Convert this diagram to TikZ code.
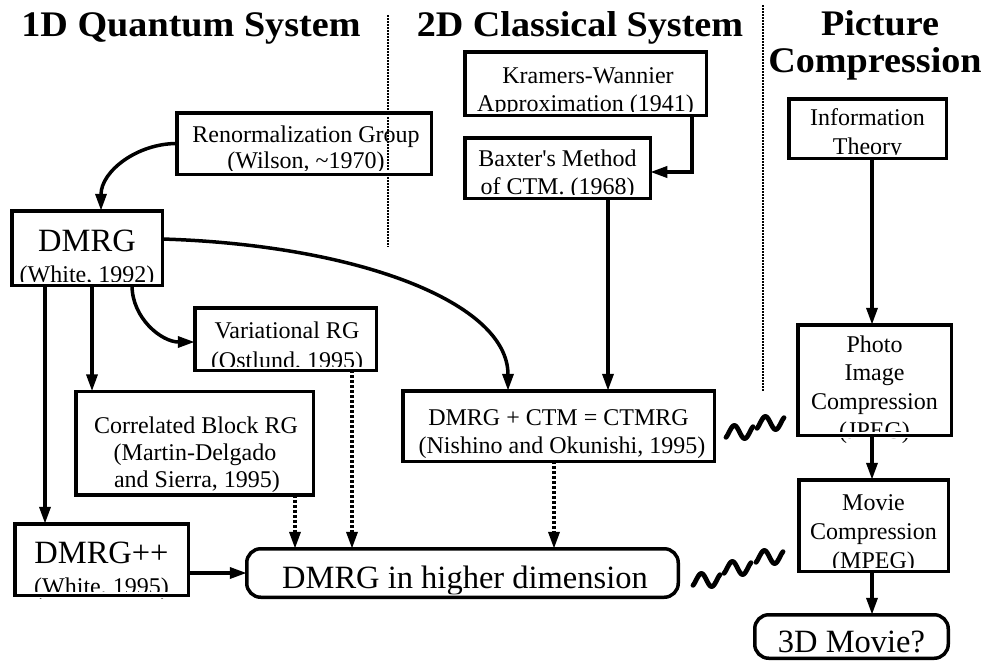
\documentclass[tikz,border=0pt]{standalone}
\usepackage{fontspec}
\setmainfont{Liberation Serif}
\newfontfamily\titlefont[FakeStretch=1.06]{Liberation Serif}
\usetikzlibrary{arrows.meta}
\begin{document}
\begin{tikzpicture}[x=1pt,y=-1pt,
  box/.style={draw, line width=3.5pt, inner sep=0pt, outer sep=0pt,
    preaction={draw=white, line width=6pt}},
  rbox/.style={box, rounded corners=14pt},
  txt/.style={anchor=base, inner sep=0pt, font=\fontsize{24}{28}\selectfont},
  big/.style={anchor=base, inner sep=0pt, font=\fontsize{32.5}{36}\selectfont},
  ttl/.style={anchor=base, inner sep=0pt, font=\titlefont\bfseries\fontsize{36}{40}\selectfont},
  arr/.style={line width=3.5pt, -{Triangle[length=17pt,width=11pt]}},
  darr/.style={arr, dash pattern=on 3pt off 2pt},
  sepline/.style={line width=1.5pt, dash pattern=on 1.5pt off 1.5pt},
  tl/.style={line width=4.8pt, line cap=round}]
\useasboundingbox (0,0) rectangle (994,662);

% titles
\node[ttl] (t1) at (191,36) {1D Quantum System};
\node[ttl] (t2) at (580,36) {2D Classical System};
\node[ttl] (t3a) at (880,35) {Picture};
\node[ttl] (t3b) at (875,72) {Compression};

% separators
\coordinate (s1a) at (388,15);
\coordinate (s1b) at (388,247);
\coordinate (s2a) at (763,5);
\coordinate (s2b) at (763,392);
\draw[sepline] (s1a) -- (s1b);
\draw[sepline] (s2a) -- (s2b);

% texts
\node[txt] (rg1) at (306,142) {Renormalization Group};
\node[txt] (rg2) at (306,168) {(Wilson, \textasciitilde1970)};
\node[txt] (kw1) at (588,83) {Kramers-Wannier};
\node[txt] (kw2) at (585.5,111) {Approximation (1941)};
\node[txt] (bx1) at (557.5,166) {Baxter\textquotesingle s Method};
\node[txt] (bx2) at (557.5,194) {of CTM. (1968)};
\node[txt] (it1) at (867.5,125) {Information};
\node[txt] (it2) at (867.5,154) {Theory};
\node[txt] (ph1) at (874.5,352) {Photo};
\node[txt] (ph2) at (874.5,380) {Image};
\node[txt] (ph3) at (874.5,409) {Compression};
\node[txt] (ph4) at (874.5,438) {(JPEG)};
\node[txt] (mv1) at (873.5,510) {Movie};
\node[txt] (mv2) at (873.5,539) {Compression};
\node[txt] (mv3) at (873.5,568) {(MPEG)};
\node[big] (m31) at (851.5,652) {3D Movie?};
\node[big] (dm1) at (87,251) {DMRG};
\node[txt] (dm2) at (87,282) {(White, 1992)};
\node[txt] (vr1) at (287,338) {Variational RG};
\node[txt] (vr2) at (287,368) {(Ostlund, 1995)};
\node[txt] (cb1) at (196,433) {Correlated Block RG};
\node[txt] (cb2) at (195,460) {(Martin-Delgado};
\node[txt] (cb3) at (197,487) {and Sierra, 1995)};
\node[txt] (cm1) at (558.5,425) {DMRG + CTM = CTMRG};
\node[txt] (cm2) at (562,453) {(Nishino and Okunishi, 1995)};
\node[big] (pp1) at (101.5,563) {DMRG++};
\node[txt] (pp2) at (101.5,594) {(White, 1995)};
\node[big] (hd1) at (465,588) {DMRG in higher dimension};

% boxes (drawn over the texts, as in the original)
\node[box, minimum width=254.5pt, minimum height=61.5pt] (rg) at (304,143.5) {};
\node[box, minimum width=241.5pt, minimum height=63.5pt] (kw) at (585.5,83.5) {};
\node[box, minimum width=185.5pt, minimum height=60.5pt] (bx) at (557.5,168) {};
\node[box, minimum width=157.5pt, minimum height=59.5pt] (it) at (867.5,128.5) {};
\node[box, minimum width=153.5pt, minimum height=110.5pt] (ph) at (874.5,380) {};
\node[box, minimum width=149.5pt, minimum height=91.5pt] (mv) at (873.5,525.5) {};
\node[rbox, minimum width=193.5pt, minimum height=43.5pt] (m3) at (851.5,636.5) {};
\node[box, minimum width=150.5pt, minimum height=74.5pt] (dm) at (87,248) {};
\node[box, minimum width=181.5pt, minimum height=62.5pt] (vr) at (285.5,339) {};
\node[box, minimum width=237.5pt, minimum height=103.5pt] (cb) at (194.5,443) {};
\node[box, minimum width=311.5pt, minimum height=70.5pt] (cm) at (558.5,426) {};
\node[box, minimum width=173.5pt, minimum height=71.5pt] (pp) at (101.5,559.5) {};
\node[rbox, minimum width=431.5pt, minimum height=48.5pt] (hd) at (462.5,573) {};

% helper coordinates for connector positions
\coordinate (xrgd) at (101,0);
\coordinate (xdpp) at (45,0);
\coordinate (xdcb) at (92,0);
\coordinate (xdvr) at (132,0);
\coordinate (xcm1) at (508,0);
\coordinate (xbx) at (608,0);
\coordinate (xkw) at (692,0);
\coordinate (ybk) at (0,172);
\coordinate (ydm) at (0,239);
\coordinate (yvr) at (0,342);
\coordinate (xcb) at (295,0);
\coordinate (xvr) at (352,0);
\coordinate (xcm2) at (554,0);
\coordinate (xpc) at (872,0);

% connectors
\draw[arr] (rg.west) to[out=180,in=90] (dm.north -| xrgd);
\draw[arr] (kw.south -| xkw) |- (bx.east |- ybk);
\draw[arr] (bx.south -| xbx) -- (cm.north -| xbx);
\draw[arr] (it.south -| xpc) -- (ph.north -| xpc);
\draw[arr] (ph.south -| xpc) -- (mv.north -| xpc);
\draw[arr] (mv.south -| xpc) -- (m3.north -| xpc);
\draw[arr] (dm.east |- ydm) .. controls +(196,6) and +(0,-88) .. (cm.north -| xcm1);
\draw[arr] (dm.south -| xdvr) to[out=-90,in=180] (vr.west |- yvr);
\draw[arr] (dm.south -| xdcb) -- (cb.north -| xdcb);
\draw[arr] (dm.south -| xdpp) -- (pp.north -| xdpp);
\draw[arr] (hd.west -| pp.east) -- (hd.west);
\draw[darr] (cb.south -| xcb) -- (hd.north -| xcb);
\draw[darr] (vr.south -| xvr) -- (hd.north -| xvr);
\draw[darr] (cm.south -| xcm2) -- (hd.north -| xcm2);

% tildes
\foreach \tx/\ty in {726/432, 757/423, 693/580, 724/568, 756/557}
  \draw[tl] plot[domain=-55:415, samples=40, variable=\t] ({\tx+27*(\t+55)/470}, {\ty-6.5*sin(\t)});
\end{tikzpicture}
\end{document}
